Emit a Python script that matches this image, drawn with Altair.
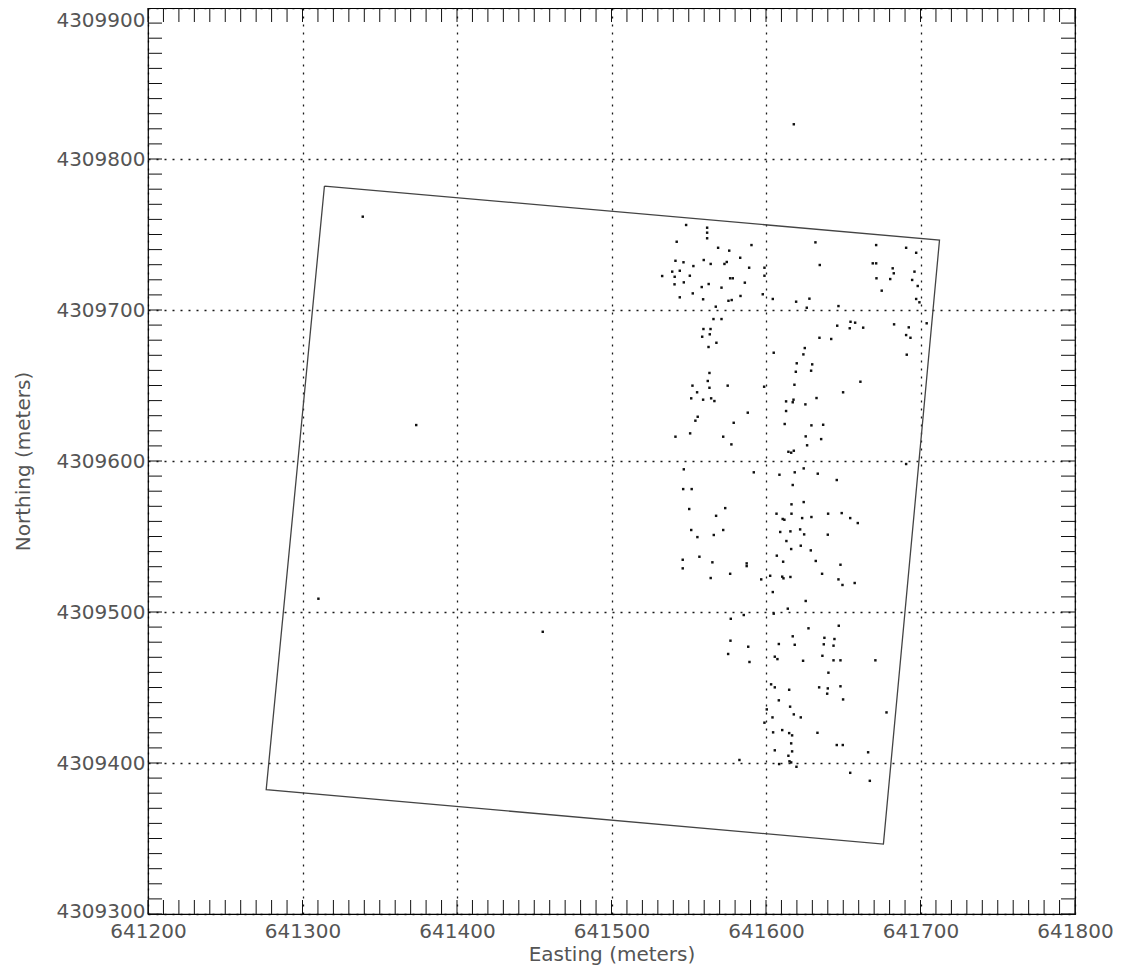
import altair as alt
import pandas as pd

# Survey points (Easting, Northing in meters)
easting = [
    641548.3, 641561.9, 641561.9, 641561.9, 641542.2, 641569.0, 641590.6, 641576.2, 641632.0, 641671.3,
    641690.7, 641697.2, 641583.3, 641541.4, 641546.6, 641559.7, 641564.2, 641573.1, 641574.6, 641553.0,
    641589.1, 641634.8, 641669.1, 641671.3, 641682.0, 641682.7, 641696.1, 641539.3, 641544.2, 641532.8,
    641540.9, 641550.7, 641576.8, 641578.5, 641599.0, 641599.0, 641671.5, 641680.4, 641694.6, 641698.2,
    641540.8, 641546.8, 641562.9, 641558.4, 641571.2, 641586.3, 641552.6, 641674.9, 641597.9, 641583.5,
    641544.2, 641559.3, 641575.7, 641577.8, 641604.4, 641619.5, 641628.1, 641697.2, 641699.3, 641626.4,
    641646.9, 641567.5, 641566.0, 641571.2, 641559.5, 641564.1, 641558.7, 641563.6, 641567.9, 641562.8,
    641646.1, 641654.7, 641657.7, 641654.2, 641662.9, 641682.9, 641692.4, 641704.0, 641634.6, 641642.2,
    641690.7, 641693.5, 641605.0, 641625.1, 641624.2, 641691.1, 641619.9, 641629.9, 641619.3, 641629.2,
    641563.4, 641562.3, 641552.4, 641575.2, 641563.4, 641598.8, 641618.4, 641661.1, 641555.4, 641649.9,
    641551.6, 641559.3, 641564.5, 641566.6, 641613.0, 641617.3, 641617.8, 641625.5, 641632.7, 641613.0,
    641588.2, 641555.8, 641554.3, 641579.1, 641612.1, 641629.4, 641637.0, 641541.4, 641550.9, 641572.3,
    641577.6, 641625.7, 641635.7, 641626.6, 641614.5, 641616.3, 641618.0, 641690.7, 641546.8, 641592.1,
    641608.7, 641618.6, 641624.4, 641633.5, 641645.8, 641617.3, 641546.4, 641551.9, 641550.3, 641573.6,
    641567.7, 641616.5, 641624.4, 641606.8, 641610.8, 641611.9, 641616.5, 641623.4, 641629.4, 641640.2,
    641649.0, 641654.5, 641659.4, 641551.6, 641555.6, 641566.2, 641572.3, 641609.2, 641615.8, 641622.1,
    641624.7, 641640.0, 641613.2, 641622.5, 641616.3, 641629.0, 641607.0, 641556.9, 641546.1, 641565.3,
    641611.1, 641632.2, 641587.5, 641587.5, 641648.2, 641546.1, 641576.8, 641636.3, 641564.2, 641602.7,
    641610.5, 641611.3, 641615.8, 641596.9, 641646.9, 641649.5, 641657.4, 641604.4, 641625.7, 641614.1,
    641577.2, 641585.6, 641605.0, 641647.1, 641627.5, 641617.3, 641637.8, 641644.3, 641577.0, 641608.3,
    641618.6, 641637.4, 641643.7, 641588.5, 641575.5, 641605.7, 641607.4, 641624.0, 641636.5, 641643.7,
    641648.2, 641670.8, 641589.3, 641640.4, 641603.3, 641605.7, 641615.0, 641634.4, 641640.0, 641639.6,
    641648.2, 641608.3, 641649.9, 641615.6, 641600.5, 641604.2, 641618.0, 641622.5, 641678.0, 641599.0,
    641604.6, 641610.5, 641615.0, 641616.9, 641633.3, 641616.3, 641645.8, 641649.7, 641605.7, 641616.9,
    641666.1, 641614.5, 641615.2, 641616.3, 641608.5, 641619.7, 641582.8, 641654.5, 641667.2, 641339.0,
    641373.6, 641310.3, 641455.5, 641618.0,
]
northing = [
    4309756.3, 4309754.5, 4309751.2, 4309747.5, 4309745.2, 4309741.2, 4309743.0, 4309739.3, 4309744.8, 4309743.0,
    4309741.2, 4309737.9, 4309734.6, 4309732.6, 4309731.6, 4309733.1, 4309730.5, 4309730.5, 4309731.8, 4309729.1,
    4309728.0, 4309729.8, 4309730.9, 4309730.9, 4309727.6, 4309724.3, 4309725.4, 4309725.4, 4309726.0, 4309722.5,
    4309722.0, 4309722.7, 4309721.0, 4309721.0, 4309728.0, 4309722.7, 4309721.0, 4309720.5, 4309719.9, 4309715.9,
    4309717.0, 4309718.3, 4309717.2, 4309715.2, 4309714.8, 4309718.1, 4309711.0, 4309712.8, 4309710.4, 4309709.3,
    4309708.4, 4309707.1, 4309706.1, 4309706.6, 4309707.3, 4309705.5, 4309707.5, 4309707.3, 4309705.1, 4309701.5,
    4309702.6, 4309702.2, 4309694.0, 4309694.0, 4309687.4, 4309687.4, 4309682.3, 4309683.9, 4309678.3, 4309675.5,
    4309689.6, 4309692.2, 4309691.6, 4309687.9, 4309688.3, 4309690.5, 4309688.5, 4309691.2, 4309681.6, 4309680.8,
    4309683.4, 4309681.6, 4309671.7, 4309674.8, 4309670.6, 4309670.4, 4309664.7, 4309664.0, 4309659.1, 4309659.8,
    4309658.3, 4309653.0, 4309649.9, 4309649.9, 4309648.5, 4309649.2, 4309650.5, 4309652.5, 4309645.5, 4309645.5,
    4309641.5, 4309640.6, 4309641.5, 4309639.7, 4309639.5, 4309638.9, 4309640.6, 4309637.5, 4309641.7, 4309633.1,
    4309632.0, 4309629.3, 4309626.7, 4309625.3, 4309624.5, 4309623.6, 4309624.0, 4309616.1, 4309618.3, 4309616.1,
    4309611.0, 4309616.3, 4309614.5, 4309610.4, 4309606.1, 4309605.5, 4309606.8, 4309598.0, 4309594.5, 4309592.5,
    4309590.9, 4309592.5, 4309595.1, 4309591.6, 4309587.4, 4309584.1, 4309581.4, 4309581.4, 4309568.2, 4309568.8,
    4309563.7, 4309571.3, 4309572.8, 4309565.1, 4309561.6, 4309561.1, 4309565.1, 4309562.2, 4309562.9, 4309565.1,
    4309565.5, 4309562.2, 4309558.9, 4309554.3, 4309549.6, 4309551.0, 4309554.3, 4309553.0, 4309553.4, 4309554.7,
    4309551.4, 4309551.2, 4309547.0, 4309543.9, 4309541.7, 4309540.8, 4309537.3, 4309536.6, 4309534.6, 4309532.9,
    4309533.3, 4309533.8, 4309532.2, 4309530.4, 4309531.3, 4309528.9, 4309525.3, 4309525.3, 4309522.5, 4309524.0,
    4309523.4, 4309522.3, 4309523.2, 4309521.6, 4309521.6, 4309517.9, 4309519.2, 4309513.2, 4309507.3, 4309502.2,
    4309495.5, 4309498.0, 4309498.9, 4309490.9, 4309489.2, 4309483.9, 4309482.9, 4309482.1, 4309481.0, 4309478.8,
    4309478.3, 4309478.6, 4309477.7, 4309477.0, 4309472.2, 4309470.4, 4309468.8, 4309467.7, 4309471.0, 4309468.0,
    4309468.0, 4309468.0, 4309466.9, 4309459.8, 4309452.1, 4309450.1, 4309448.5, 4309450.1, 4309449.4, 4309445.9,
    4309450.8, 4309441.5, 4309442.1, 4309437.3, 4309435.5, 4309430.2, 4309432.2, 4309430.2, 4309433.5, 4309426.7,
    4309420.3, 4309421.8, 4309419.8, 4309418.3, 4309420.0, 4309413.0, 4309411.9, 4309411.9, 4309408.4, 4309407.7,
    4309407.1, 4309404.8, 4309401.1, 4309400.4, 4309399.3, 4309397.5, 4309402.0, 4309393.5, 4309388.2, 4309761.8,
    4309623.8, 4309508.8, 4309486.9, 4309823.0,
]

# Footprint rectangle corners (closed)
rect_easting = [641314.2, 641712.3, 641676.0, 641276.5, 641314.2]
rect_northing = [4309782.1, 4309746.3, 4309346.3, 4309382.3, 4309782.1]

# Axis tick labels
x_labels = [641200, 641300, 641400, 641500, 641600, 641700, 641800]
y_labels = [4309300, 4309400, 4309500, 4309600, 4309700, 4309800, 4309900]
# Minor tick positions (every 10 m)
x_minor = list(range(641200, 641801, 10))
y_minor = list(range(4309300, 4309901, 10))

W, H = 927, 906
TICK = 14

label_font = "DejaVu Sans"
text_color = "#555555"

xs = alt.Scale(domain=[641200, 641800], nice=False, zero=False)
ys = alt.Scale(domain=[4309300, 4309900], nice=False, zero=False)

common = dict(tickSize=0, domain=False, grid=True, gridColor="black",
              gridDash=[2, 6], gridWidth=1.3, gridOpacity=0.9, labelFlush=False,
              format="d", labelFont=label_font, labelFontSize=20,
              labelColor=text_color, titleFont=label_font, titleFontSize=20,
              titleColor=text_color, titleFontWeight="normal")
x_axis = alt.Axis(values=x_labels, title="Easting (meters)", labelPadding=7,
                  titlePadding=3, **common)
y_axis = alt.Axis(values=y_labels, title="Northing (meters)", labelPadding=3,
                  titlePadding=22,
                  labelBaseline=alt.expr("datum.value == 4309900 ? 'top' : 'middle'"),
                  labelOffset=alt.expr("datum.value == 4309900 ? 2 : (datum.value == 4309300 ? -3 : 0)"),
                  **common)

X = alt.X("easting:Q", scale=xs, axis=x_axis)
Y = alt.Y("northing:Q", scale=ys, axis=y_axis)

pts = pd.DataFrame({"easting": easting, "northing": northing})
rect = pd.DataFrame({"easting": rect_easting, "northing": rect_northing,
                     "idx": list(range(len(rect_easting)))})
xt = pd.DataFrame({"easting": x_minor})
yt = pd.DataFrame({"northing": y_minor})

points = alt.Chart(pts).mark_square(size=6, color="#111111", opacity=1).encode(x=X, y=Y)

outline = alt.Chart(rect).mark_line(color="#444444", strokeWidth=1.3).encode(
    x=X, y=Y, order="idx:Q")

tick_style = dict(color="#111111", strokeWidth=1)
top_ticks = alt.Chart(xt).mark_rule(**tick_style).encode(
    x=X, y=alt.value(0), y2=alt.value(TICK))
bottom_ticks = alt.Chart(xt).mark_rule(**tick_style).encode(
    x=X, y=alt.value(H), y2=alt.value(H - TICK))
left_ticks = alt.Chart(yt).mark_rule(**tick_style).encode(
    y=Y, x=alt.value(0), x2=alt.value(TICK))
right_ticks = alt.Chart(yt).mark_rule(**tick_style).encode(
    y=Y, x=alt.value(W), x2=alt.value(W - TICK))

chart = alt.layer(points, outline, top_ticks, bottom_ticks, left_ticks, right_ticks).properties(
    width=W, height=H,
    background="white",
    autosize=alt.AutoSizeParams(type="none"),
    padding={"left": 140, "top": 0, "right": 38, "bottom": 57},
).configure_view(
    stroke="black", strokeWidth=1.2
)

chart.save("out.html", embed_options={"renderer": "svg", "actions": False})
